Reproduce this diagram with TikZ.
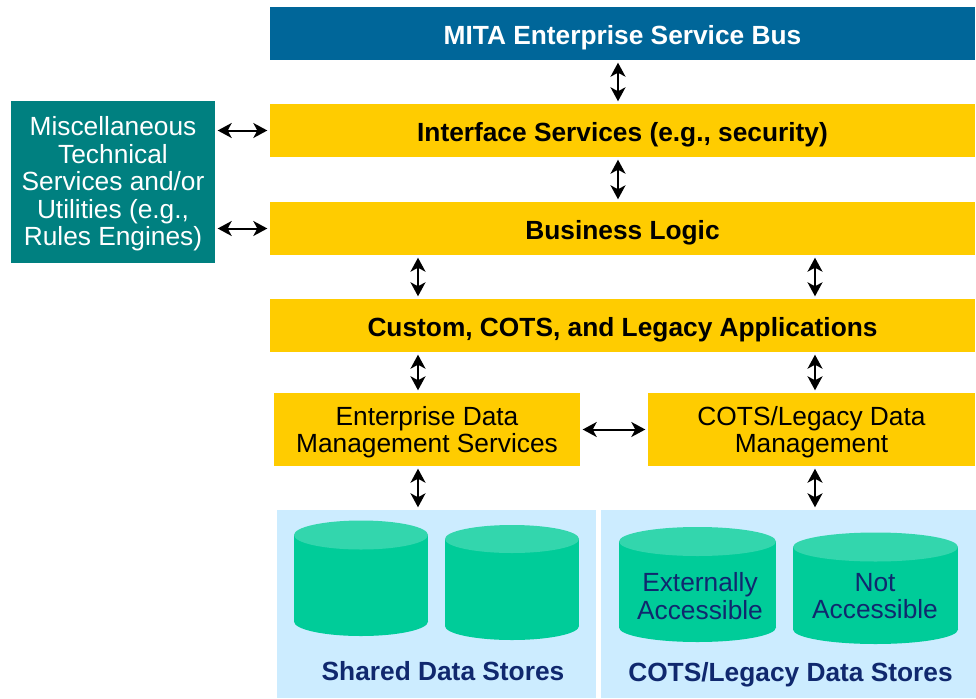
\documentclass[tikz,border=0pt]{standalone}
\usepackage{fontspec}
\setmainfont{Liberation Sans}
\usetikzlibrary{arrows.meta}

\definecolor{esbblue}{RGB}{0,102,153}
\definecolor{layeryellow}{RGB}{255,204,0}
\definecolor{miscteal}{RGB}{0,128,128}
\definecolor{storepanel}{RGB}{204,236,255}
\definecolor{storebody}{RGB}{0,204,153}
\definecolor{storetop}{RGB}{51,214,173}
\definecolor{storetext}{RGB}{16,40,110}

\newcommand{\bigfont}{\fontsize{26.3}{27.5}\selectfont}

% x1, x2, top centre, bottom centre, y radius
\newcommand{\drawstore}[5]{%
  \fill[storebody] (#1,#3) rectangle (#2,#4);
  \fill[storebody] ({(#1+#2)/2},#4) ellipse [x radius={(#2-#1)/2}, y radius=#5];
  \fill[storetop] ({(#1+#2)/2},#3) ellipse [x radius={(#2-#1)/2}, y radius=#5];
}

\tikzset{
  layer/.style={fill=layeryellow, minimum width=705pt, minimum height=53pt,
    inner sep=0pt, text height=22pt, text depth=0.2pt, font=\bfseries\bigfont},
  datamgmt/.style={fill=layeryellow, minimum height=73pt, inner sep=0pt},
  boxtext/.style={align=center, inner sep=0pt, font=\bigfont},
  panel/.style={fill=storepanel, minimum height=188pt, inner sep=0pt},
  storelabel/.style={text=storetext, align=center, font=\bigfont},
  link/.style={line width=2pt, shorten <=2.5pt, shorten >=2.5pt,
    {Stealth[length=14pt,width=15pt,inset=4pt]}-{Stealth[length=14pt,width=15pt,inset=4pt]}}
}

\begin{document}
\begin{tikzpicture}[x=1pt, y=-1pt]
  \useasboundingbox (0,0) rectangle (976,698);

  % layers
  \node [layer, fill=esbblue, text=white] (esb) at (622.5,33.5) {MITA Enterprise Service Bus};
  \node [layer] (iface) at (622.5,130.5) {Interface Services (e.g., security)};
  \node [layer] (logic) at (622.5,228.5) {Business Logic};
  \node [layer] (apps) at (622.5,325.5) {Custom, COTS, and Legacy Applications};
  \node [datamgmt, minimum width=306pt] (edm) at (427,429.5) {};
  \node [boxtext] (edmtext) at ([yshift=-2.5pt]edm.center)
    {Enterprise Data\\Management Services};
  \node [datamgmt, minimum width=327pt] (ldm) at (811.5,429.5) {};
  \node [boxtext] (ldmtext) at ([yshift=-2.5pt]ldm.center)
    {COTS/Legacy Data\\Management};
  \node [fill=miscteal, minimum width=204pt, minimum height=162pt,
    inner sep=0pt] (misc) at (113,182) {};
  \node [boxtext, text=white] (misctext) at ([yshift=-2pt]misc.center)
    {Miscellaneous\\Technical\\Services and/or\\Utilities (e.g.,\\Rules Engines)};

  % data stores
  \node [panel, minimum width=319pt] (shared) at (436.5,604) {};
  \node [panel, minimum width=375pt] (legacy) at (788.5,604) {};
  \drawstore{294}{428}{535}{621.5}{14.5}
  \drawstore{445}{579}{539}{626}{14}
  \drawstore{619}{776}{541.5}{627.5}{14.5}
  \drawstore{793}{958}{547}{629.5}{14.5}
  \node [storelabel] (ext) at (700,596) {Externally\\Accessible};
  \node [storelabel] (notacc) at (875,596) {Not\\Accessible};
  \node [storelabel, font=\bfseries\bigfont] (sharedlabel) at (443,671) {Shared Data Stores};
  \node [storelabel, font=\bfseries\bigfont] (legacylabel) at (790.5,675) {COTS/Legacy Data Stores};

  % connectors
  \coordinate (midlink) at (618,0);
  \coordinate (leftlink) at (418,0);
  \coordinate (rightlink) at (815,0);
  \draw [link] (esb.south -| midlink) -- (iface.north -| midlink);
  \draw [link] (iface.south -| midlink) -- (logic.north -| midlink);
  \draw [link] (logic.south -| leftlink) -- (apps.north -| leftlink);
  \draw [link] (logic.south -| rightlink) -- (apps.north -| rightlink);
  \draw [link] (apps.south -| leftlink) -- (edm.north -| leftlink);
  \draw [link] (apps.south -| rightlink) -- (ldm.north -| rightlink);
  \draw [link] (edm.east) -- (ldm.west);
  \draw [link] (edm.south -| leftlink) -- (shared.north -| leftlink);
  \draw [link] (ldm.south -| rightlink) -- (legacy.north -| rightlink);
  \draw [link] (misc.east |- iface) -- (iface.west);
  \draw [link] (misc.east |- logic) -- (logic.west);
\end{tikzpicture}
\end{document}
